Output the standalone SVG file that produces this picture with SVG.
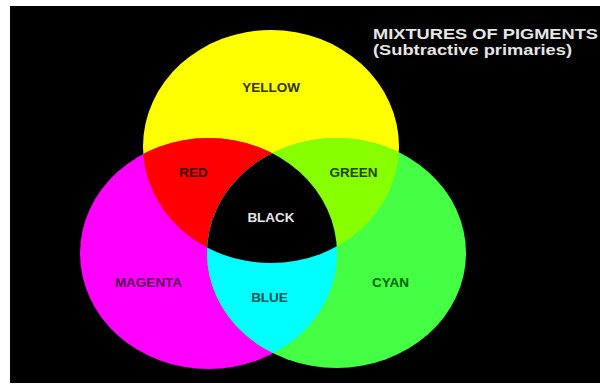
<svg xmlns="http://www.w3.org/2000/svg" width="600" height="385" viewBox="0 0 600 385">
<style>
.lbl{font-family:"Liberation Sans",Arial,sans-serif;font-weight:bold;font-size:13.5px;text-anchor:middle}
.ttl{font-family:"Liberation Sans",Arial,sans-serif;font-weight:bold;font-size:15px;fill:#e6e6e6}
</style>
<defs>
<clipPath id="clipY"><ellipse cx="271" cy="146.5" rx="128" ry="116.5"/></clipPath>
<clipPath id="clipM"><ellipse cx="208.5" cy="253.5" rx="128.5" ry="115.5"/></clipPath>
<clipPath id="clipC"><ellipse cx="336.5" cy="253" rx="129.5" ry="115"/></clipPath>
</defs>
<rect x="0" y="0" width="600" height="385" fill="#ffffff"/>
<rect x="10" y="6" width="590" height="377" fill="#000000"/>
<g id="yellow">
<ellipse cx="271" cy="146.5" rx="128" ry="116.5" fill="#ffff00"/>
</g>
<g id="magenta">
<ellipse cx="208.5" cy="253.5" rx="128.5" ry="115.5" fill="#ff00ff"/>
</g>
<g id="cyan">
<ellipse cx="336.5" cy="253" rx="129.5" ry="115" fill="#44ff44"/>
</g>
<g id="red">
<ellipse cx="271" cy="146.5" rx="128" ry="116.5" fill="#ff0000" clip-path="url(#clipM)"/>
</g>
<g id="green">
<ellipse cx="271" cy="146.5" rx="128" ry="116.5" fill="#88ff00" clip-path="url(#clipC)"/>
</g>
<g id="blue">
<ellipse cx="208.5" cy="253.5" rx="128.5" ry="115.5" fill="#00ffff" clip-path="url(#clipC)"/>
</g>
<g id="black">
<g clip-path="url(#clipM)">
<ellipse cx="271" cy="146.5" rx="128" ry="116.5" fill="#000000" clip-path="url(#clipC)"/>
</g>
</g>
<g id="labels">
<text class="lbl" x="271" y="92" fill="#333300">YELLOW</text>
<text class="lbl" x="193.5" y="177" fill="#440000">RED</text>
<text class="lbl" x="353.5" y="177" fill="#224400">GREEN</text>
<text class="lbl" x="271" y="222" fill="#e6e6e6">BLACK</text>
<text class="lbl" x="148.5" y="287" fill="#550055">MAGENTA</text>
<text class="lbl" x="269.5" y="302" fill="#005555">BLUE</text>
<text class="lbl" x="390.5" y="287" fill="#006600">CYAN</text>
</g>
<g id="title">
<text class="ttl" x="373" y="38.5" textLength="225" lengthAdjust="spacingAndGlyphs">MIXTURES OF PIGMENTS</text>
<text class="ttl" x="373" y="55" textLength="199" lengthAdjust="spacingAndGlyphs">(Subtractive primaries)</text>
</g>
</svg>
